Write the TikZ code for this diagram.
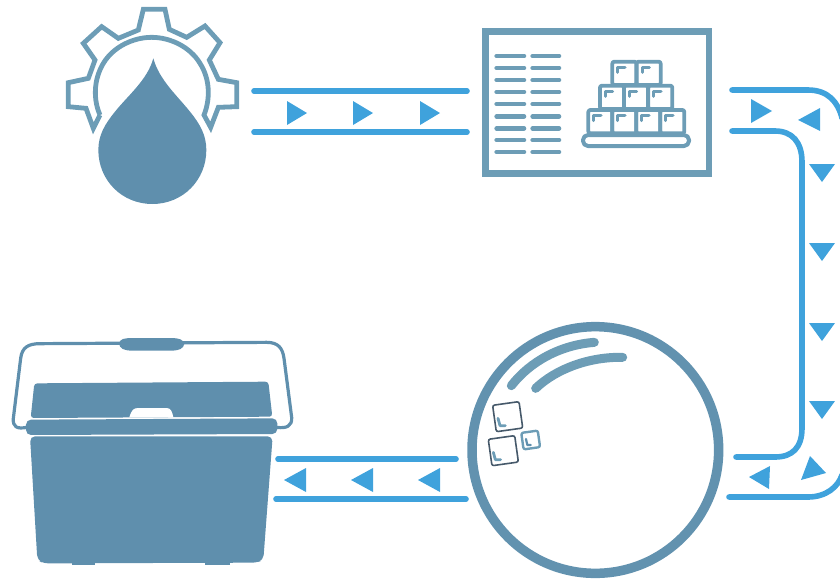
\documentclass[tikz,border=0pt]{standalone}
\definecolor{steel}{HTML}{5F8FAD}
\definecolor{steellt}{HTML}{6D9DB6}
\definecolor{pipeblue}{HTML}{3FA2DC}
\definecolor{darkedge}{HTML}{46596A}
\tikzset{
  pipe/.style={draw=pipeblue,line width=5.6pt,line cap=round,line join=round},
  flowmark/.style={fill=pipeblue},
  iconline/.style={draw=steellt,line join=round,line cap=round},
  iconfill/.style={fill=steel},
  zoomed/.style={x=0.33333pt,y=-0.33333pt}
}
\begin{document}
\begin{tikzpicture}[x=1pt,y=-1pt]
\useasboundingbox (0,0) rectangle (840,582);
\clip (0,0) rectangle (840,582);
% gear and drop
\begin{scope}[xshift=50pt,yshift=0pt,zoomed]
\draw[iconline,line width=4.8pt,miter limit=3,line cap=butt,line join=miter]
  (150,345) -- (130,385) -- (108,325) -- (55,320) -- (55,248) -- (115,235) -- (135,180) -- (100,130)
  -- (155,80) -- (205,115) -- (265,90) -- (280,28) -- (345,28) -- (358,88) -- (410,112) -- (465,78)
  -- (510,128) -- (478,180) -- (505,238) -- (560,248) -- (560,320) -- (505,322) -- (482,382) -- (462,345)
  .. controls (480,300) and (482,240) .. (450,190)
  .. controls (420,140) and (360,112) .. (305,112)
  .. controls (250,112) and (190,140) .. (160,190)
  .. controls (130,240) and (130,300) .. (150,345);
\fill[iconfill] (310,175) .. controls (292,240) and (235,285) .. (195,335)
  .. controls (165,372) and (145,405) .. (145,450)
  .. controls (145,540) and (215,612) .. (307,612)
  .. controls (399,612) and (469,540) .. (469,450)
  .. controls (469,405) and (450,372) .. (420,335)
  .. controls (380,285) and (328,240) .. (310,175) -- cycle;
\end{scope}
% board
\begin{scope}[xshift=475pt,yshift=-20pt,zoomed]
\draw[iconline,line width=6.5pt,line join=miter] (32,35) rectangle (702,460);
\foreach \yy in {108,144,180,216,252,289,325,360,396} {
  \draw[iconline,line width=4.6pt] (65,\yy) -- (147,\yy);
  \draw[iconline,line width=4.6pt] (173,\yy) -- (252,\yy);
}
\foreach \xa/\ya in {412/125,485/125,375/197,447/197,520/197,340/270,412/270,484/270,556/270} {
  \draw[iconline,line width=3.8pt,rounded corners=2pt] (\xa,\ya) rectangle ++(72,70);
  \draw[iconline,line width=3pt] (\xa+16,\ya+32) -- (\xa+16,\ya+17) -- (\xa+38,\ya+17);
}
\draw[iconline,line width=4pt,rounded corners=5pt] (324,345) rectangle (642,378);
\end{scope}
% cooler
\begin{scope}[xshift=0pt,yshift=-330pt,zoomed]
\draw[iconline,draw=steel,line width=3.2pt]
  (80,292) .. controls (50,298) and (38,290) .. (40,265) -- (62,85)
  .. controls (66,52) and (85,41) .. (120,41) -- (800,37)
  .. controls (835,37) and (848,55) .. (852,85) -- (875,262)
  .. controls (877,288) and (860,296) .. (830,292);
\fill[iconfill,rounded corners=4pt] (357,30) -- (380,24) -- (530,24) -- (553,32) -- (553,52) -- (530,62) -- (380,62) -- (357,52) -- cycle;
\fill[iconfill,rounded corners=3pt] (92,264) -- (103,160) -- (805,155) -- (817,260) -- cycle;
\fill[white] (388,262) .. controls (395,240) and (400,234) .. (415,234) -- (500,234) .. controls (512,234) and (517,245) .. (520,262) -- cycle;
\fill[iconfill,rounded corners=5pt] (78,269) -- (832,265) -- (832,312) -- (78,315) -- cycle;
\fill[iconfill,rounded corners=5pt] (90,319) -- (818,319) -- (790,690) -- (770,698) -- (130,700) -- (112,690) -- cycle;
\fill[iconfill] (215,695) rectangle (285,706);
\fill[iconfill] (615,695) rectangle (690,706);
\end{scope}
% flask
\begin{scope}[xshift=460pt,yshift=-315pt,zoomed]
\draw[iconline,draw=steel!80!steellt,line width=9.5pt] (406,405) circle [radius=370];
\draw[iconline,line width=9pt] (154,212) .. controls (210,140) and (300,90) .. (403,82);
\draw[iconline,line width=9pt] (227,220) .. controls (290,160) and (390,125) .. (488,127);
\draw[draw=darkedge,line width=1.6pt,rounded corners=2pt,rotate around={8:(143,305)}] (103,265) rectangle (183,345);
\draw[draw=darkedge,line width=1.6pt,rounded corners=2pt,rotate around={8:(130,407)}] (90,367) rectangle (170,447);
\draw[iconline,line width=2.4pt,rounded corners=2pt,rotate around={8:(212,375)}] (187,350) rectangle (237,400);
\draw[iconline,line width=2.8pt] (114,310) -- (120,332) -- (136,332);
\draw[iconline,line width=2.8pt] (100,412) -- (106,434) -- (122,434);
\draw[iconline,draw=steel,line width=2.2pt] (198,372) -- (202,390) -- (212,390);
\end{scope}
% connectors
\coordinate (p1a) at (254,91); \coordinate (p1b) at (467,91);
\coordinate (p2a) at (254,132); \coordinate (p2b) at (467,132);
\draw[pipe] (p1a) -- (p1b);
\draw[pipe] (p2a) -- (p2b);
\foreach \xx in {287,353,420} \fill[flowmark] (\xx,101) -- (\xx,125) -- (\xx+20,113) -- cycle;
\coordinate (o1) at (732,90); \coordinate (o2) at (729,497);
\coordinate (i1) at (732,131); \coordinate (i2) at (736,457);
\draw[pipe] (o1) -- (808,90) .. controls (828,90) and (838,102) .. (842,118);
\draw[pipe] (o2) -- (808,497) .. controls (826,497) and (838,487) .. (842,475);
\draw[pipe] (i1) -- (775,131) .. controls (792,131) and (802,142) .. (802,162) -- (802,428) .. controls (802,448) and (792,457) .. (775,457) -- (i2);
\coordinate (q1a) at (278,459); \coordinate (q1b) at (456,459);
\coordinate (q2a) at (276,499); \coordinate (q2b) at (466,499);
\draw[pipe] (q1a) -- (q1b);
\draw[pipe] (q2a) -- (q2b);
\foreach \xx in {284,351,418} \fill[flowmark] (\xx,480) -- (\xx+22,468) -- (\xx+22,492) -- cycle;
\fill[flowmark] (751,99) -- (751,123) -- (772,111) -- cycle;
\fill[flowmark] (820,108) -- (820,131) -- (798,120) -- cycle;
\foreach \yy in {164,243,323,401} \fill[flowmark] (809,\yy) -- (835,\yy) -- (822,\yy+18) -- cycle;
\fill[flowmark] (810,456) -- (826,473) -- (801,480) -- cycle;
\fill[flowmark] (770,466) -- (769,489) -- (749,477) -- cycle;
\end{tikzpicture}
\end{document}
